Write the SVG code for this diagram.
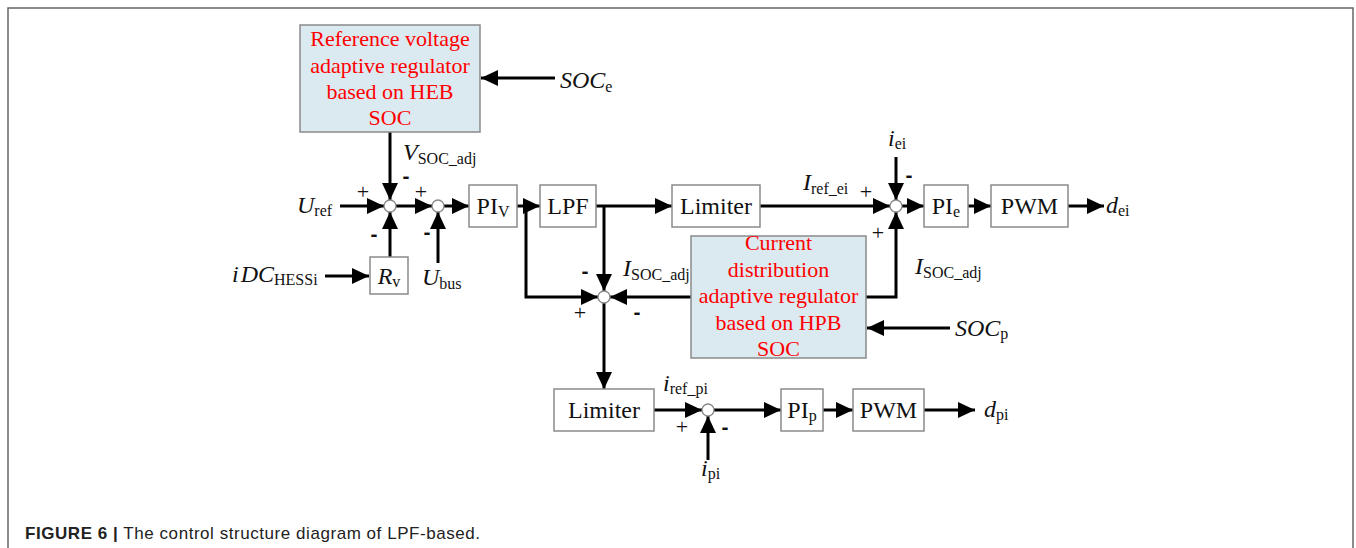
<svg xmlns="http://www.w3.org/2000/svg" width="1356" height="548" viewBox="0 0 1356 548">
  <style>
    .frame { fill: none; stroke: #666; stroke-width: 1.5; }
    .blk { fill: #fff; stroke: #8a8a8a; stroke-width: 1.5; }
    .reg { fill: #dbe9f0; stroke: #8a8a8a; stroke-width: 1.5; }
    .sum { fill: #fff; stroke: #8a8a8a; stroke-width: 1.3; }
    .wire { fill: none; stroke: #000; stroke-width: 3; }
    .arr { marker-end: url(#ah); }
    .t { font-family: "Liberation Serif", "Times New Roman", serif; font-size: 24px; fill: #111; }
    .c { text-anchor: middle; }
    .it { font-style: italic; }
    .sub { font-size: 16px; font-style: normal; }
    .red { font-size: 22px; fill: #ff0000; text-anchor: middle; }
    .plus { font-family: "Liberation Serif", "Times New Roman", serif; font-size: 22px; fill: #111; text-anchor: middle; }
    .minus { font-family: "Liberation Sans", Arial, sans-serif; font-size: 21px; font-weight: bold; fill: #111; text-anchor: middle; }
    .cap { font-family: "Liberation Sans", Arial, sans-serif; font-size: 17px; letter-spacing: 0.55px; fill: #222; }
  </style>
  <defs>
    <marker id="ah" markerUnits="userSpaceOnUse" markerWidth="18" markerHeight="16" refX="17" refY="8" orient="auto">
      <path d="M0,0 L17,8 L0,16 z" fill="#000"/>
    </marker>
  </defs>

  <rect class="frame" x="8" y="8" width="1345" height="570"/>

  <!-- connectors -->
  <g id="connectors">
    <line class="wire arr" x1="555" y1="78" x2="481" y2="78"/>
    <line class="wire arr" x1="390" y1="132" x2="390" y2="200"/>
    <line class="wire arr" x1="340" y1="206" x2="384" y2="206"/>
    <line class="wire arr" x1="325" y1="276" x2="369" y2="276"/>
    <line class="wire arr" x1="390" y1="257" x2="390" y2="212"/>
    <line class="wire arr" x1="396" y1="206" x2="432" y2="206"/>
    <line class="wire arr" x1="438" y1="263" x2="438" y2="212"/>
    <line class="wire arr" x1="444" y1="206" x2="469" y2="206"/>
    <line class="wire arr" x1="517" y1="206" x2="540" y2="206"/>
    <polyline class="wire arr" points="526,206 526,297 598,297"/>
    <line class="wire arr" x1="596" y1="206" x2="672" y2="206"/>
    <line class="wire arr" x1="604" y1="206" x2="604" y2="291"/>
    <line class="wire arr" x1="691" y1="297" x2="610" y2="297"/>
    <line class="wire arr" x1="760" y1="206" x2="890" y2="206"/>
    <line class="wire arr" x1="896" y1="157" x2="896" y2="200"/>
    <polyline class="wire arr" points="866,297 896,297 896,212"/>
    <line class="wire arr" x1="902" y1="206" x2="924" y2="206"/>
    <line class="wire arr" x1="968" y1="206" x2="991" y2="206"/>
    <line class="wire arr" x1="1068" y1="206" x2="1104" y2="206"/>
    <line class="wire arr" x1="950" y1="328" x2="867" y2="328"/>
    <line class="wire arr" x1="604" y1="303" x2="604" y2="389"/>
    <line class="wire arr" x1="654" y1="410" x2="702" y2="410"/>
    <line class="wire arr" x1="708" y1="460" x2="708" y2="416"/>
    <line class="wire arr" x1="714" y1="410" x2="781" y2="410"/>
    <line class="wire arr" x1="823" y1="410" x2="853" y2="410"/>
    <line class="wire arr" x1="924" y1="410" x2="975" y2="410"/>
  </g>

  <!-- reference voltage adaptive regulator -->
  <g id="vreg">
    <rect class="reg" x="300" y="25" width="180" height="107"/>
    <text class="t red" x="390" y="46">Reference voltage</text>
    <text class="t red" x="390" y="73">adaptive regulator</text>
    <text class="t red" x="390" y="99">based on HEB</text>
    <text class="t red" x="390" y="125">SOC</text>
  </g>

  <!-- current distribution adaptive regulator -->
  <g id="ireg">
    <rect class="reg" x="691" y="236" width="175" height="122"/>
    <text class="t red" x="778.5" y="250">Current</text>
    <text class="t red" x="778.5" y="277">distribution</text>
    <text class="t red" x="778.5" y="303">adaptive regulator</text>
    <text class="t red" x="778.5" y="330">based on HPB</text>
    <text class="t red" x="778.5" y="356">SOC</text>
  </g>

  <!-- summing junctions -->
  <g id="sum1"><circle class="sum" cx="390" cy="206" r="6"/></g>
  <g id="sum2"><circle class="sum" cx="438" cy="206" r="6"/></g>
  <g id="sum3"><circle class="sum" cx="604" cy="297" r="6"/></g>
  <g id="sum4"><circle class="sum" cx="896" cy="206" r="6"/></g>
  <g id="sum5"><circle class="sum" cx="708" cy="410" r="6"/></g>

  <!-- blocks -->
  <g id="rv">
    <rect class="blk" x="370" y="257" width="38" height="37"/>
    <text class="t c" x="389" y="284"><tspan class="it">R</tspan><tspan class="sub" dy="3">v</tspan></text>
  </g>
  <g id="piv">
    <rect class="blk" x="469" y="185" width="48" height="42"/>
    <text class="t c" x="493" y="214">PI<tspan class="sub" dy="3">V</tspan></text>
  </g>
  <g id="lpf">
    <rect class="blk" x="540" y="185" width="56" height="42"/>
    <text class="t c" x="568" y="214">LPF</text>
  </g>
  <g id="limiter1">
    <rect class="blk" x="672" y="185" width="88" height="42"/>
    <text class="t c" x="716" y="214">Limiter</text>
  </g>
  <g id="pie">
    <rect class="blk" x="924" y="185" width="44" height="42"/>
    <text class="t c" x="946" y="214">PI<tspan class="sub" dy="3">e</tspan></text>
  </g>
  <g id="pwm1">
    <rect class="blk" x="991" y="185" width="77" height="42"/>
    <text class="t c" x="1029.5" y="214">PWM</text>
  </g>
  <g id="limiter2">
    <rect class="blk" x="554" y="389" width="100" height="42"/>
    <text class="t c" x="604" y="418">Limiter</text>
  </g>
  <g id="pip">
    <rect class="blk" x="781" y="389" width="42" height="42"/>
    <text class="t c" x="802" y="418">PI<tspan class="sub" dy="3">p</tspan></text>
  </g>
  <g id="pwm2">
    <rect class="blk" x="853" y="389" width="71" height="42"/>
    <text class="t c" x="888.5" y="418">PWM</text>
  </g>

  <!-- signal labels -->
  <g id="labels">
    <text class="t it" x="560" y="88">SOC<tspan class="sub it" dy="4">e</tspan></text>
    <text class="t" x="403" y="160"><tspan class="it">V</tspan><tspan class="sub" dy="4">SOC_adj</tspan></text>
    <text class="t" x="297" y="213"><tspan class="it">U</tspan><tspan class="sub" dy="3">ref</tspan></text>
    <text class="t" x="232" y="282"><tspan class="it">i</tspan><tspan class="it" dx="2">DC</tspan><tspan class="sub" dy="3">HESSi</tspan></text>
    <text class="t" x="422" y="285"><tspan class="it">U</tspan><tspan class="sub" dy="4">bus</tspan></text>
    <text class="t" x="803" y="190"><tspan class="it">I</tspan><tspan class="sub" dy="4">ref_ei</tspan></text>
    <text class="t" x="888" y="146"><tspan class="it">i</tspan><tspan class="sub" dy="3">ei</tspan></text>
    <text class="t" x="1106" y="213"><tspan class="it">d</tspan><tspan class="sub" dy="3">ei</tspan></text>
    <text class="t" x="623" y="276"><tspan class="it">I</tspan><tspan class="sub" dy="4">SOC_adj</tspan></text>
    <text class="t" x="915" y="274"><tspan class="it">I</tspan><tspan class="sub" dy="4">SOC_adj</tspan></text>
    <text class="t" x="955" y="336"><tspan class="it">SOC</tspan><tspan class="sub" dy="3">p</tspan></text>
    <text class="t" x="663" y="391"><tspan class="it">i</tspan><tspan class="sub" dy="3">ref_pi</tspan></text>
    <text class="t" x="701" y="476"><tspan class="it">i</tspan><tspan class="sub" dy="3">pi</tspan></text>
    <text class="t" x="984" y="417"><tspan class="it">d</tspan><tspan class="sub" dy="3">pi</tspan></text>
  </g>

  <!-- junction signs -->
  <g id="signs">
    <text class="plus" x="363" y="199">+</text>
    <text class="minus" x="406" y="183">-</text>
    <text class="minus" x="374" y="241">-</text>
    <text class="plus" x="421" y="199">+</text>
    <text class="minus" x="427" y="239">-</text>
    <text class="minus" x="585" y="278">-</text>
    <text class="plus" x="580" y="320">+</text>
    <text class="minus" x="637" y="319">-</text>
    <text class="plus" x="866" y="199">+</text>
    <text class="minus" x="909" y="182">-</text>
    <text class="plus" x="878" y="240">+</text>
    <text class="plus" x="682" y="434">+</text>
    <text class="minus" x="725" y="434">-</text>
  </g>

  <text class="cap" x="25" y="539"><tspan font-weight="bold">FIGURE 6 |</tspan> The control structure diagram of LPF-based.</text>
</svg>
